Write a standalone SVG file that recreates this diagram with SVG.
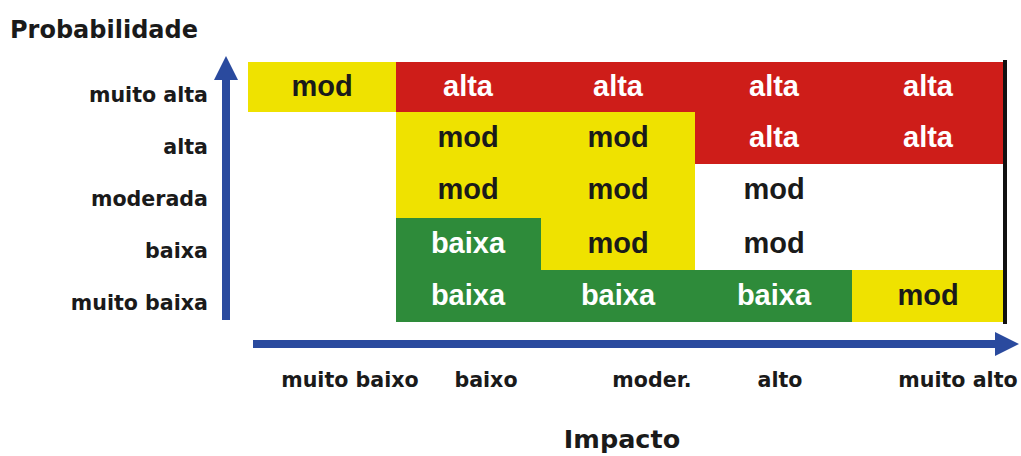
<svg xmlns="http://www.w3.org/2000/svg" width="1021" height="456" viewBox="0 0 1021 456">
  <style>
    .lbl { font-family: "DejaVu Sans", Verdana, sans-serif; font-weight: bold; font-size: 20.6px; fill: #1a1a1a; }
    .ttl { font-family: "DejaVu Sans", Verdana, sans-serif; font-weight: bold; fill: #1a1a1a; }
    .ct { font-family: "Liberation Sans", Arial, sans-serif; font-weight: bold; font-size: 29px; text-anchor: middle; }
    .light { fill: #ffffff; }
    .dark { fill: #1a1a1a; }
    .red { fill: #CE1D19; }
    .yel { fill: #EFE200; }
    .grn { fill: #2E8B3A; }
    rect { shape-rendering: crispEdges; }
    .axis { stroke: #2A4A9E; stroke-width: 8; fill: none; }
  </style>
  <defs>
    <marker id="ah" markerUnits="userSpaceOnUse" markerWidth="24" markerHeight="24" viewBox="0 0 24 24" refX="0" refY="12" orient="auto">
      <path d="M0,0 L24,12 L0,24 z" fill="#2A4A9E"/>
    </marker>
  </defs>

  <rect x="0" y="0" width="1021" height="456" fill="#ffffff"/>

  <text class="ttl" x="10" y="38" font-size="24">Probabilidade</text>

  <g id="y-labels">
    <text class="lbl" x="208" y="102" text-anchor="end">muito alta</text>
    <text class="lbl" x="208" y="154" text-anchor="end">alta</text>
    <text class="lbl" x="208" y="206" text-anchor="end">moderada</text>
    <text class="lbl" x="208" y="258" text-anchor="end">baixa</text>
    <text class="lbl" x="208" y="310" text-anchor="end">muito baixa</text>
  </g>

  <!-- row 1: muito alta -->
  <g id="c11"><rect class="yel" x="248" y="62" width="148" height="50"/><text class="ct dark" x="322" y="96">mod</text></g>
  <g id="c12"><rect class="red" x="396" y="62" width="145" height="50"/><text class="ct light" x="468" y="96">alta</text></g>
  <g id="c13"><rect class="red" x="541" y="62" width="154" height="50"/><text class="ct light" x="618" y="96">alta</text></g>
  <g id="c14"><rect class="red" x="695" y="62" width="157" height="50"/><text class="ct light" x="774" y="96">alta</text></g>
  <g id="c15"><rect class="red" x="852" y="62" width="151" height="50"/><text class="ct light" x="928" y="96">alta</text></g>

  <!-- row 2: alta -->
  <g id="c22"><rect class="yel" x="396" y="112" width="145" height="52"/><text class="ct dark" x="468" y="147">mod</text></g>
  <g id="c23"><rect class="yel" x="541" y="112" width="154" height="52"/><text class="ct dark" x="618" y="147">mod</text></g>
  <g id="c24"><rect class="red" x="695" y="112" width="157" height="52"/><text class="ct light" x="774" y="147">alta</text></g>
  <g id="c25"><rect class="red" x="852" y="112" width="151" height="52"/><text class="ct light" x="928" y="147">alta</text></g>

  <!-- row 3: moderada -->
  <g id="c32"><rect class="yel" x="396" y="164" width="145" height="54"/><text class="ct dark" x="468" y="199">mod</text></g>
  <g id="c33"><rect class="yel" x="541" y="164" width="154" height="54"/><text class="ct dark" x="618" y="199">mod</text></g>
  <g id="c34"><text class="ct dark" x="774" y="199">mod</text></g>

  <!-- row 4: baixa -->
  <g id="c42"><rect class="grn" x="396" y="218" width="145" height="52"/><text class="ct light" x="468" y="253">baixa</text></g>
  <g id="c43"><rect class="yel" x="541" y="218" width="154" height="52"/><text class="ct dark" x="618" y="253">mod</text></g>
  <g id="c44"><text class="ct dark" x="774" y="253">mod</text></g>

  <!-- row 5: muito baixa -->
  <g id="c52"><rect class="grn" x="396" y="270" width="145" height="52"/><text class="ct light" x="468" y="305">baixa</text></g>
  <g id="c53"><rect class="grn" x="541" y="270" width="154" height="52"/><text class="ct light" x="618" y="305">baixa</text></g>
  <g id="c54"><rect class="grn" x="695" y="270" width="157" height="52"/><text class="ct light" x="774" y="305">baixa</text></g>
  <g id="c55"><rect class="yel" x="852" y="270" width="151" height="52"/><text class="ct dark" x="928" y="305">mod</text></g>

  <g id="right-border"><rect x="1003" y="60" width="4" height="264" fill="#111111"/></g>

  <g id="connectors">
    <line class="axis" x1="226" y1="320" x2="226" y2="80" marker-end="url(#ah)"/>
    <line class="axis" x1="253" y1="344" x2="995" y2="344" marker-end="url(#ah)"/>
  </g>

  <g id="x-labels">
    <text class="lbl" x="350" y="387" text-anchor="middle">muito baixo</text>
    <text class="lbl" x="486" y="387" text-anchor="middle">baixo</text>
    <text class="lbl" x="652" y="387" text-anchor="middle">moder.</text>
    <text class="lbl" x="780" y="387" text-anchor="middle">alto</text>
    <text class="lbl" x="958" y="387" text-anchor="middle">muito alto</text>
  </g>

  <text class="ttl" x="622" y="448" font-size="25.5" text-anchor="middle">Impacto</text>
</svg>
